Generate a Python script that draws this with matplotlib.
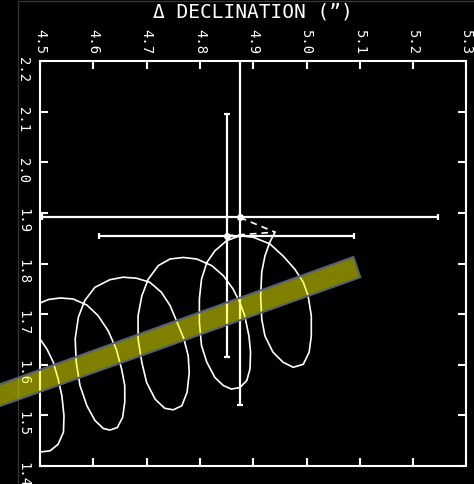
import matplotlib
matplotlib.use('Agg')
import matplotlib.pyplot as plt
from matplotlib.patches import Polygon
from matplotlib.lines import Line2D

# two measured positions (dec, ra) with errors
obs_x = [4.875, 4.850]
obs_y = [1.891, 1.855]
obs_err = [0.371, 0.240]

# predicted path (parallax + proper motion), traced in order
path_x = [4.941, 4.931, 4.922, 4.916, 4.914, 4.916, 4.922, 4.937, 4.956, 4.975,
          4.994, 5.005, 5.009, 5.009, 5.003, 4.994, 4.978, 4.956, 4.931, 4.900,
          4.875, 4.850, 4.828, 4.813, 4.803, 4.799, 4.799, 4.803, 4.813, 4.828,
          4.844, 4.859, 4.875, 4.888, 4.894, 4.895, 4.892, 4.884, 4.875, 4.862,
          4.844, 4.822, 4.794, 4.769, 4.744, 4.722, 4.703, 4.691, 4.684, 4.684,
          4.691, 4.700, 4.716, 4.734, 4.750, 4.766, 4.776, 4.780, 4.778, 4.770,
          4.756, 4.744, 4.728, 4.706, 4.681, 4.656, 4.631, 4.603, 4.584, 4.572,
          4.566, 4.568, 4.575, 4.588, 4.603, 4.619, 4.631, 4.645, 4.655, 4.659,
          4.659, 4.653, 4.643, 4.628, 4.609, 4.588, 4.562, 4.538, 4.516, 4.500,
          4.485, 4.482, 4.500, 4.513, 4.525, 4.534, 4.541, 4.545, 4.544, 4.534,
          4.519, 4.503, 4.490]
path_y = [1.862, 1.842, 1.815, 1.783, 1.736, 1.690, 1.657, 1.625, 1.605, 1.595,
          1.601, 1.625, 1.657, 1.697, 1.736, 1.763, 1.789, 1.815, 1.839, 1.852,
          1.855, 1.845, 1.825, 1.802, 1.769, 1.730, 1.684, 1.638, 1.605, 1.575,
          1.559, 1.552, 1.555, 1.569, 1.592, 1.625, 1.657, 1.697, 1.723, 1.750,
          1.776, 1.796, 1.809, 1.812, 1.809, 1.796, 1.769, 1.736, 1.697, 1.651,
          1.605, 1.565, 1.532, 1.514, 1.511, 1.519, 1.546, 1.585, 1.618, 1.651,
          1.687, 1.717, 1.743, 1.763, 1.771, 1.773, 1.768, 1.753, 1.727, 1.694,
          1.651, 1.605, 1.559, 1.519, 1.490, 1.474, 1.471, 1.476, 1.496, 1.526,
          1.559, 1.592, 1.631, 1.667, 1.697, 1.718, 1.730, 1.732, 1.729, 1.722,
          1.700, 1.670, 1.651, 1.631, 1.605, 1.572, 1.539, 1.499, 1.467, 1.443,
          1.430, 1.428, 1.432]

# fitted strip corners
band_x = [4.400, 5.088, 5.101, 4.400]
band_y = [1.552, 1.813, 1.773, 1.509]

xticks = [4.5, 4.6, 4.7, 4.8, 4.9, 5.0, 5.1, 5.2, 5.3]
yticks = [1.4, 1.5, 1.6, 1.7, 1.8, 1.9, 2.0, 2.1, 2.2]

fig = plt.figure(figsize=(4.74, 4.85), dpi=100, facecolor='black')
ax = fig.add_axes([0.0844, 0.0371, 0.8996, 0.8349], facecolor='black')

for i in range(len(obs_x)):
    ax.errorbar(obs_x[i], obs_y[i], xerr=obs_err[i], yerr=obs_err[i],
                fmt='o', color='white', ms=4, lw=1.6, capsize=2.5,
                capthick=1.6, zorder=3)
    ax.plot([obs_x[i], path_x[0]], [obs_y[i], path_y[0]], color='white',
            lw=1.2, ls=(0, (4, 3)), zorder=3)

ax.plot(path_x, path_y, color='white', lw=1.2, zorder=3)

band = Polygon(list(zip(band_x, band_y)), closed=True, facecolor=(1, 1, 0, 0.5),
               edgecolor='#56606e', lw=1.5, clip_on=False, zorder=5)
ax.add_patch(band)

ax.set_xlim(4.5, 5.3)
ax.set_ylim(1.4, 2.2)
ax.set_xticks(xticks)
ax.set_yticks(yticks)
ax.set_xticklabels(['%.1f' % v for v in xticks])
ax.set_yticklabels(['%.1f' % v for v in yticks])

ax.tick_params(axis='both', direction='in', length=6, width=1.5, color='white',
               labelcolor='white', labelsize=10, labelrotation=-90,
               top=True, bottom=True, left=True, right=True)
ax.tick_params(axis='x', labeltop=True, labelbottom=False, pad=6)
ax.tick_params(axis='y', pad=7)
for lab in ax.get_xticklabels() + ax.get_yticklabels():
    lab.set_family('DejaVu Sans Mono')

for s in ax.spines.values():
    s.set_color('white')
    s.set_linewidth(1.5)

fig.text(0.534, 0.975, 'Δ DECLINATION (”)', color='white', fontsize=14,
         family='DejaVu Sans Mono', ha='center', va='center')

# thin outer frame
fig.add_artist(Line2D([18 / 474, 18 / 474], [0, 1 - 2 / 485],
                      transform=fig.transFigure, color='#333333', lw=1, zorder=-1))
fig.add_artist(Line2D([18 / 474, 1], [1 - 2 / 485, 1 - 2 / 485],
                      transform=fig.transFigure, color='#333333', lw=1, zorder=-1))

fig.savefig('out.png', dpi=100, facecolor='black')
